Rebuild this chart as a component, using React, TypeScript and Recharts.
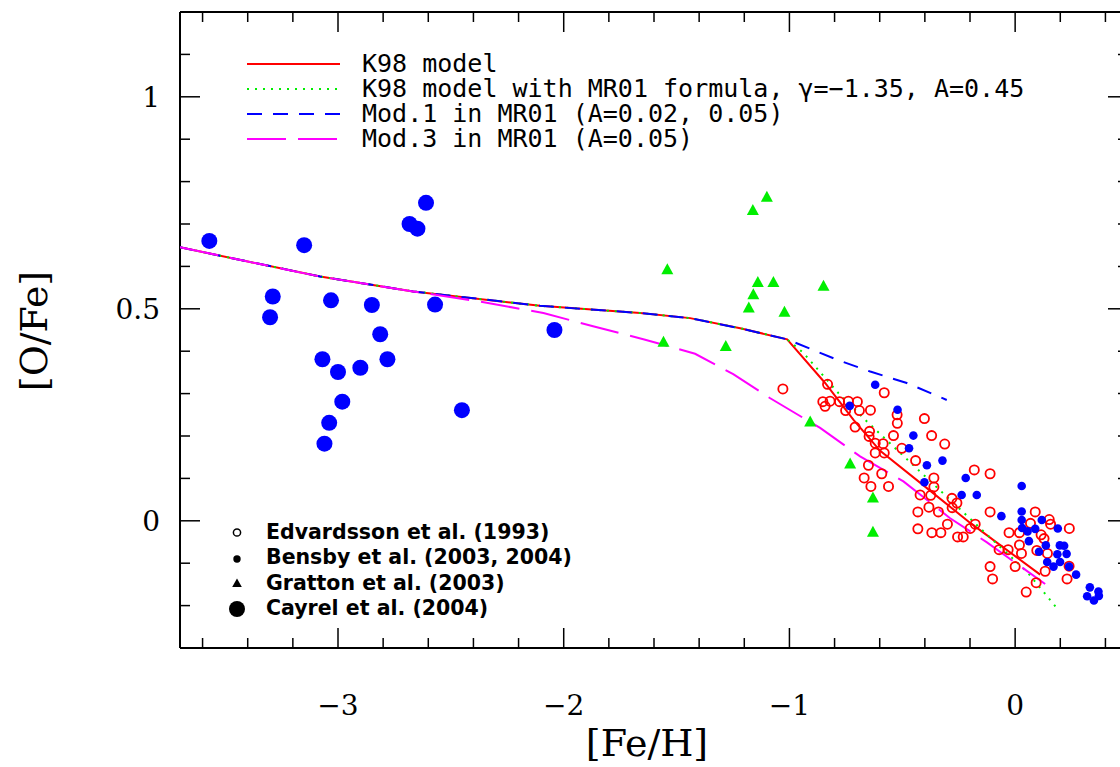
import React from 'react';
import { ScatterChart, Scatter, XAxis, YAxis, Customized } from 'recharts';

type Pt = { x: number; y: number };

// shared halo part of all four models, [Fe/H] < -1
const halo: Pt[] = [
  { x: -3.7, y: 0.645 }, { x: -3.079, y: 0.576 }, { x: -2.667, y: 0.541 }, { x: -2.105, y: 0.507 },
  { x: -1.661, y: 0.49 }, { x: -1.44, y: 0.478 }, { x: -1.218, y: 0.454 }, { x: -1.01, y: 0.428 },
];

const k98Disk: Pt[] = [
  { x: -0.842, y: 0.325 }, { x: -0.716, y: 0.238 }, { x: -0.598, y: 0.165 },
  { x: -0.391, y: 0.077 }, { x: -0.199, y: -0.005 }, { x: 0.111, y: -0.127 },
];

const k98mr01Disk: Pt[] = [
  { x: -0.938, y: 0.396 }, { x: -0.783, y: 0.301 }, { x: -0.672, y: 0.242 }, { x: -0.539, y: 0.175 },
  { x: -0.421, y: 0.116 }, { x: -0.303, y: 0.057 }, { x: -0.14, y: -0.025 }, { x: 0.052, y: -0.12 },
  { x: 0.185, y: -0.206 },
];

const mod1Disk: Pt[] = [
  { x: -0.79, y: 0.38 }, { x: -0.642, y: 0.352 }, { x: -0.48, y: 0.325 }, { x: -0.303, y: 0.285 },
];

const mod3: Pt[] = [
  { x: -3.7, y: 0.645 }, { x: -3.079, y: 0.576 }, { x: -2.667, y: 0.541 }, { x: -2.37, y: 0.517 },
  { x: -2.09, y: 0.49 }, { x: -1.87, y: 0.459 }, { x: -1.639, y: 0.427 }, { x: -1.418, y: 0.394 },
  { x: -1.249, y: 0.346 }, { x: -1.085, y: 0.289 }, { x: -0.864, y: 0.219 }, { x: -0.687, y: 0.152 },
  { x: -0.495, y: 0.093 }, { x: -0.288, y: 0.006 }, { x: -0.125, y: -0.051 }, { x: 0.133, y: -0.149 },
];

const k98 = [...halo, ...k98Disk];
const k98mr01 = [...halo, ...k98mr01Disk];
const mod1 = [...halo, ...mod1Disk];

// Edvardsson et al. (1993)
const edvardsson: Pt[] = [
  { x: -1.029, y: 0.311 }, { x: -0.831, y: 0.322 }, { x: -0.58, y: 0.302 }, { x: -0.852, y: 0.281 },
  { x: -0.82, y: 0.282 }, { x: -0.842, y: 0.27 }, { x: -0.778, y: 0.281 }, { x: -0.739, y: 0.282 },
  { x: -0.699, y: 0.281 }, { x: -0.751, y: 0.26 }, { x: -0.69, y: 0.26 }, { x: -0.641, y: 0.261 },
  { x: -0.523, y: 0.25 }, { x: -0.522, y: 0.23 }, { x: -0.402, y: 0.241 }, { x: -0.709, y: 0.221 },
  { x: -0.645, y: 0.211 }, { x: -0.647, y: 0.199 }, { x: -0.539, y: 0.201 }, { x: -0.37, y: 0.201 },
  { x: -0.585, y: 0.182 }, { x: -0.62, y: 0.183 }, { x: -0.58, y: 0.16 }, { x: -0.62, y: 0.16 },
  { x: -0.502, y: 0.171 }, { x: -0.312, y: 0.181 }, { x: -0.441, y: 0.142 }, { x: -0.65, y: 0.131 },
  { x: -0.591, y: 0.111 }, { x: -0.669, y: 0.101 }, { x: -0.639, y: 0.081 }, { x: -0.561, y: 0.081 },
  { x: -0.36, y: 0.101 }, { x: -0.181, y: 0.12 }, { x: -0.111, y: 0.111 }, { x: -0.36, y: 0.08 },
  { x: -0.421, y: 0.061 }, { x: -0.374, y: 0.06 }, { x: -0.28, y: 0.053 }, { x: -0.258, y: 0.042 },
  { x: -0.382, y: 0.032 }, { x: -0.34, y: 0.021 }, { x: -0.279, y: 0.031 }, { x: -0.431, y: 0.021 },
  { x: -0.111, y: 0.021 }, { x: -0.3, y: -0.008 }, { x: -0.177, y: -0.008 }, { x: -0.431, y: -0.019 },
  { x: -0.369, y: -0.028 }, { x: -0.329, y: -0.028 }, { x: -0.255, y: -0.038 }, { x: -0.23, y: -0.038 },
  { x: -0.199, y: -0.018 }, { x: -0.027, y: -0.028 }, { x: 0.019, y: -0.028 }, { x: -0.071, y: -0.068 },
  { x: -0.031, y: -0.068 }, { x: -0.111, y: -0.108 }, { x: -0.1, y: -0.137 }, { x: 0.0, y: -0.108 },
  { x: 0.089, y: 0.021 }, { x: 0.068, y: -0.006 }, { x: 0.151, y: 0.003 }, { x: 0.157, y: -0.008 },
  { x: 0.24, y: -0.018 }, { x: 0.115, y: -0.033 }, { x: 0.128, y: -0.042 }, { x: 0.019, y: -0.057 },
  { x: 0.028, y: -0.077 }, { x: 0.096, y: -0.07 }, { x: 0.143, y: -0.077 }, { x: 0.093, y: -0.146 },
  { x: 0.133, y: -0.119 }, { x: 0.239, y: -0.107 }, { x: 0.23, y: -0.137 }, { x: 0.049, y: -0.168 },
];

// Bensby et al. (2003, 2004)
const bensby: Pt[] = [
  { x: -0.62, y: 0.321 }, { x: -0.733, y: 0.271 }, { x: -0.521, y: 0.262 }, { x: -0.451, y: 0.201 },
  { x: -0.47, y: 0.171 }, { x: -0.322, y: 0.142 }, { x: -0.391, y: 0.131 }, { x: -0.402, y: 0.091 },
  { x: -0.219, y: 0.101 }, { x: -0.237, y: 0.061 }, { x: -0.17, y: 0.061 }, { x: -0.061, y: 0.011 },
  { x: 0.029, y: 0.082 }, { x: 0.029, y: 0.022 }, { x: 0.029, y: 0.002 }, { x: 0.118, y: 0.002 },
  { x: 0.189, y: -0.018 }, { x: 0.031, y: -0.017 }, { x: 0.055, y: -0.025 }, { x: 0.089, y: -0.019 },
  { x: 0.061, y: -0.048 }, { x: 0.136, y: -0.058 }, { x: 0.198, y: -0.058 }, { x: 0.217, y: -0.059 },
  { x: 0.106, y: -0.073 }, { x: 0.187, y: -0.079 }, { x: 0.228, y: -0.078 }, { x: 0.142, y: -0.097 },
  { x: 0.17, y: -0.108 }, { x: 0.199, y: -0.097 }, { x: 0.239, y: -0.108 }, { x: 0.27, y: -0.127 },
  { x: 0.331, y: -0.157 }, { x: 0.369, y: -0.167 }, { x: 0.319, y: -0.178 }, { x: 0.349, y: -0.188 },
  { x: 0.371, y: -0.177 },
];

// Gratton et al. (2003)
const gratton: Pt[] = [
  { x: -1.541, y: 0.592 }, { x: -1.1, y: 0.763 }, { x: -1.162, y: 0.732 }, { x: -1.14, y: 0.562 },
  { x: -1.071, y: 0.562 }, { x: -1.16, y: 0.533 }, { x: -1.18, y: 0.502 }, { x: -1.022, y: 0.492 },
  { x: -0.849, y: 0.553 }, { x: -1.558, y: 0.421 }, { x: -1.282, y: 0.411 }, { x: -0.908, y: 0.233 },
  { x: -0.731, y: 0.134 }, { x: -0.63, y: 0.054 }, { x: -0.63, y: -0.027 },
];

// Cayrel et al. (2004)
const cayrel: Pt[] = [
  { x: -3.57, y: 0.66 }, { x: -3.289, y: 0.529 }, { x: -3.301, y: 0.48 }, { x: -3.15, y: 0.65 },
  { x: -3.031, y: 0.52 }, { x: -2.85, y: 0.509 }, { x: -2.813, y: 0.44 }, { x: -3.069, y: 0.381 },
  { x: -3.0, y: 0.351 }, { x: -2.901, y: 0.361 }, { x: -2.781, y: 0.381 }, { x: -2.981, y: 0.281 },
  { x: -3.039, y: 0.231 }, { x: -3.06, y: 0.182 }, { x: -2.683, y: 0.7 }, { x: -2.648, y: 0.689 },
  { x: -2.61, y: 0.75 }, { x: -2.57, y: 0.51 }, { x: -2.451, y: 0.261 }, { x: -2.041, y: 0.45 },
];

const xTicks = [-3.6, -3.4, -3.2, -3, -2.8, -2.6, -2.4, -2.2, -2, -1.8, -1.6, -1.4, -1.2, -1,
  -0.8, -0.6, -0.4, -0.2, 0, 0.2, 0.4];
const xMajor = [-3, -2, -1, 0];
const yTicks = [-0.2, -0.1, 0, 0.1, 0.2, 0.3, 0.4, 0.5, 0.6, 0.7, 0.8, 0.9, 1, 1.1];
const yMajor = [0, 0.5, 1];

const modelKeys = [
  'K98 model',
  'K98 model with MR01 formula, \u03b3=\u22121.35, A=0.45',
  'Mod.1 in MR01 (A=0.02, 0.05)',
  'Mod.3 in MR01 (A=0.05)',
];
const obsKeys = [
  'Edvardsson et al. (1993)',
  'Bensby et al. (2003, 2004)',
  'Gratton et al. (2003)',
  'Cayrel et al. (2004)',
];

const RED = '#ff0000';
const GREEN = '#00ee00';
const BLUE = '#0000ff';
const MAGENTA = '#ff00ff';

const numFont = '"DejaVu Serif", serif';
const MAJ = 20;
const MIN = 10;

const fmt = (v: number) => (v < 0 ? '\u2212' + Math.abs(v) : String(v));

function BottomTick({ x, y, payload }: any) {
  const major = xMajor.includes(payload.value);
  return (
    <g>
      <line x1={x} y1={y} x2={x} y2={y - (major ? MAJ : MIN)} stroke="#000" strokeWidth={1.5} />
      {major && (
        <text x={x} y={y + 67} textAnchor="middle" fontFamily={numFont} fontSize={28} fill="#000">
          {fmt(payload.value)}
        </text>
      )}
    </g>
  );
}

function TopTick({ x, y, payload }: any) {
  const major = xMajor.includes(payload.value);
  return <line x1={x} y1={y} x2={x} y2={y + (major ? MAJ : MIN)} stroke="#000" strokeWidth={1.5} />;
}

function LeftTick({ x, y, payload }: any) {
  const major = yMajor.includes(payload.value);
  return (
    <g>
      <line x1={x} y1={y} x2={x + (major ? MAJ : MIN)} y2={y} stroke="#000" strokeWidth={1.5} />
      {major && (
        <text x={x - 20} y={y + 10} textAnchor="end" fontFamily={numFont} fontSize={28} fill="#000">
          {fmt(payload.value)}
        </text>
      )}
    </g>
  );
}

function RightTick({ x, y, payload }: any) {
  const major = yMajor.includes(payload.value);
  return <line x1={x} y1={y} x2={x - (major ? MAJ : MIN)} y2={y} stroke="#000" strokeWidth={1.5} />;
}

const noDot = () => <g />;

function OpenCircle({ cx, cy }: any) {
  return <circle cx={cx} cy={cy} r={4.6} fill="none" stroke={RED} strokeWidth={1.8} />;
}

function SmallDot({ cx, cy }: any) {
  return <circle cx={cx} cy={cy} r={4.3} fill={BLUE} />;
}

function BigDot({ cx, cy }: any) {
  return <circle cx={cx} cy={cy} r={8} fill={BLUE} />;
}

function Triangle({ cx, cy }: any) {
  return <polygon points={`${cx},${cy - 6.5} ${cx - 6},${cy + 4.5} ${cx + 6},${cy + 4.5}`} fill={GREEN} />;
}

// legends and axis titles
function Decor() {
  const lineStyles = [
    { stroke: RED },
    { stroke: GREEN, strokeDasharray: '2 6' },
    { stroke: BLUE, strokeDasharray: '15 11' },
    { stroke: MAGENTA, strokeDasharray: '39 12' },
  ];
  const modelRows = [64, 89, 114, 139];
  const obsRows = [538.5, 564, 589.5, 615];
  const sx = 237;
  return (
    <g>
      {modelKeys.map((k, i) => (
        <g key={k}>
          <line x1={247} x2={340} y1={modelRows[i]} y2={modelRows[i]} strokeWidth={2} {...lineStyles[i]} />
          <text x={362} y={modelRows[i] + 8} fontFamily='"DejaVu Sans Mono", monospace' fontSize={25} fill="#000">
            {k}
          </text>
        </g>
      ))}
      <circle cx={sx} cy={obsRows[0] - 6} r={3.6} fill="none" stroke="#000" strokeWidth={1.5} />
      <circle cx={sx} cy={obsRows[1] - 5} r={3.7} fill="#000" />
      <polygon points={`${sx},${obsRows[2] - 11} ${sx - 4.8},${obsRows[2] - 2.5} ${sx + 4.8},${obsRows[2] - 2.5}`} fill="#000" />
      <circle cx={sx} cy={obsRows[3] - 6} r={8} fill="#000" />
      {obsKeys.map((k, i) => (
        <text key={k} x={266} y={obsRows[i]} fontFamily='"DejaVu Sans", sans-serif' fontWeight="bold" fontSize={20.5} fill="#000">
          {k}
        </text>
      ))}
      <text x={647} y={756} textAnchor="middle" fontFamily={numFont} fontSize={38} fill="#000">[Fe/H]</text>
      <text x={47} y={331} transform="rotate(-90 47 331)" textAnchor="middle" fontFamily={numFont} fontSize={38} fill="#000">
        [O/Fe]
      </text>
    </g>
  );
}

export default function App() {
  return (
    <div style={{ position: 'absolute', left: 0, top: 0, width: 1120, height: 767, overflow: 'hidden', background: '#fff' }}>
      <ScatterChart width={1140} height={767} margin={{ top: 11, right: 11, bottom: 59, left: 120 }}>
        <XAxis
          dataKey="x" type="number" domain={[-3.7, 0.5]} ticks={xTicks} interval={0} allowDataOverflow
          height={60} tickSize={0} tickMargin={0} tick={<BottomTick />} axisLine={{ stroke: '#000', strokeWidth: 2 }}
        />
        <XAxis
          xAxisId="top" orientation="top" dataKey="x" type="number" domain={[-3.7, 0.5]} ticks={xTicks} interval={0}
          allowDataOverflow height={1} tickSize={0} tickMargin={0} tick={<TopTick />} axisLine={{ stroke: '#000', strokeWidth: 2 }}
        />
        <YAxis
          dataKey="y" type="number" domain={[-0.3, 1.2]} ticks={yTicks} interval={0} allowDataOverflow
          width={60} tickSize={0} tickMargin={0} tick={<LeftTick />} axisLine={{ stroke: '#000', strokeWidth: 2 }}
        />
        <YAxis
          yAxisId="right" orientation="right" dataKey="y" type="number" domain={[-0.3, 1.2]} ticks={yTicks} interval={0}
          allowDataOverflow width={1} tickSize={0} tickMargin={0} tick={<RightTick />} axisLine={{ stroke: '#000', strokeWidth: 2 }}
        />
        <Scatter data={k98} shape={noDot} line={{ stroke: RED, strokeWidth: 2 }} isAnimationActive={false} />
        <Scatter data={k98mr01} shape={noDot} line={{ stroke: GREEN, strokeWidth: 2, strokeDasharray: '2 6' }} isAnimationActive={false} />
        <Scatter data={mod1} shape={noDot} line={{ stroke: BLUE, strokeWidth: 2, strokeDasharray: '15 11' }} isAnimationActive={false} />
        <Scatter data={mod3} shape={noDot} line={{ stroke: MAGENTA, strokeWidth: 2, strokeDasharray: '39 12' }} isAnimationActive={false} />
        <Scatter data={edvardsson} shape={OpenCircle} isAnimationActive={false} />
        <Scatter data={bensby} shape={SmallDot} isAnimationActive={false} />
        <Scatter data={gratton} shape={Triangle} isAnimationActive={false} />
        <Scatter data={cayrel} shape={BigDot} isAnimationActive={false} />
        <Customized component={Decor} />
      </ScatterChart>
    </div>
  );
}
